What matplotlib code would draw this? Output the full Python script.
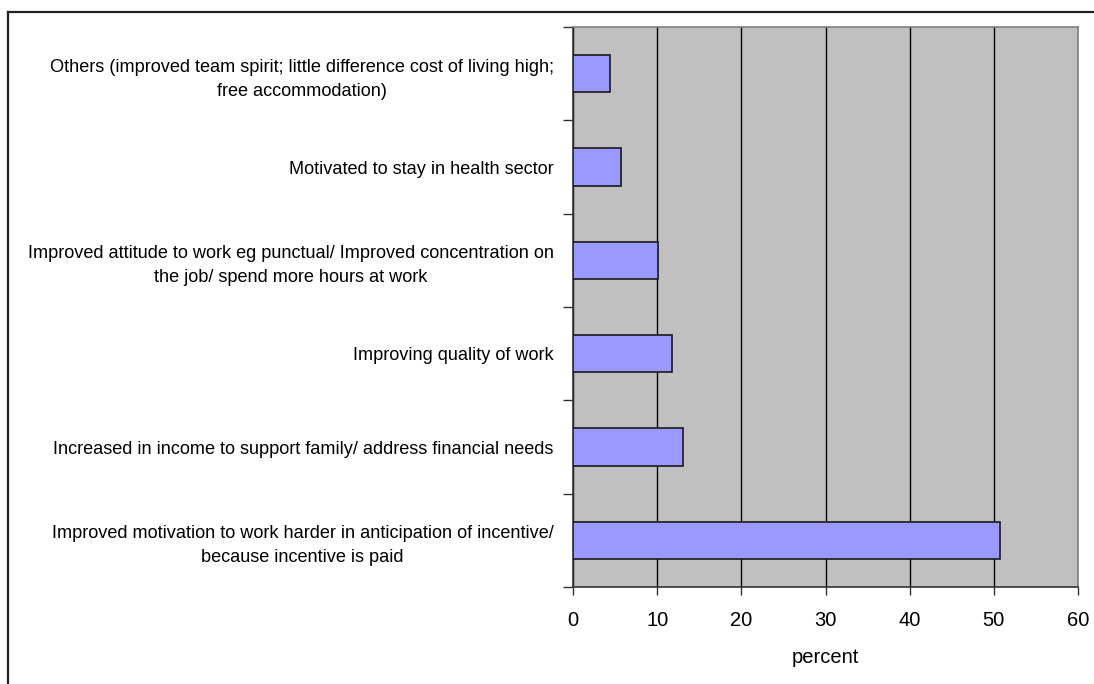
import matplotlib
matplotlib.use("Agg")
import matplotlib.pyplot as plt
from matplotlib.lines import Line2D
import numpy as np

plt.rcParams['font.family'] = ['Liberation Sans', 'DejaVu Sans']

categories = [
    "Improved motivation to work harder in anticipation of incentive/\nbecause incentive is paid",
    "Increased in income to support family/ address financial needs",
    "Improving quality of work",
    "Improved attitude to work eg punctual/ Improved concentration on\nthe job/ spend more hours at work",
    "Motivated to stay in health sector",
    "Others (improved team spirit; little difference cost of living high;\nfree accommodation)",
]
percent = [50.7, 13.1, 11.8, 10.1, 5.7, 4.4]
x_ticks = [0, 10, 20, 30, 40, 50, 60]

W, H = 1094, 684
fig = plt.figure(figsize=(W / 100, H / 100), dpi=100)
ax = fig.add_axes([573 / W, 1 - 587 / H, (1078 - 573) / W, (587 - 27) / H])

ax.set_facecolor('#C0C0C0')
pos = np.arange(len(categories))
ax.barh(pos, percent, height=0.4, color='#9999FF', edgecolor='#1a1a1a',
        linewidth=1.2, zorder=3)

ax.set_xlim(0, 60)
ax.set_ylim(-0.5, len(categories) - 0.5)
ax.set_xticks(x_ticks)
ax.set_xticklabels([str(v) for v in x_ticks], fontsize=14.5)
ax.grid(axis='x', color='black', linewidth=1.0, zorder=1)
ax.grid(axis='y', visible=False)

# category ticks sit on the boundaries, labels sit at bar centres
ax.set_yticks(np.arange(-0.5, len(categories), 1.0))
ax.set_yticklabels([])
ax.set_yticks(pos, minor=True)
ax.set_yticklabels(categories, minor=True, fontsize=13.1, multialignment='center',
                   linespacing=1.55)
ax.tick_params(axis='y', which='major', length=7, width=1, color='#333333', direction='out')
ax.tick_params(axis='y', which='minor', length=0, pad=14)
ax.tick_params(axis='x', length=6, width=1, color='#333333', direction='out', pad=11)

ax.set_xlabel('percent', fontsize=14.5, labelpad=13)

for side in ('top', 'right'):
    ax.spines[side].set_color('#808080')
    ax.spines[side].set_linewidth(1.2)
for side in ('left', 'bottom'):
    ax.spines[side].set_color('#333333')
    ax.spines[side].set_linewidth(1.2)

# outer chart border
fig.add_artist(Line2D([8 / W, 1.0], [1 - 12 / H, 1 - 12 / H], color='#222222',
                      linewidth=1.6, transform=fig.transFigure))
fig.add_artist(Line2D([8 / W, 8 / W], [0.0, 1 - 12 / H], color='#222222',
                      linewidth=1.6, transform=fig.transFigure))

fig.savefig('out.png', dpi=100, facecolor='white')
